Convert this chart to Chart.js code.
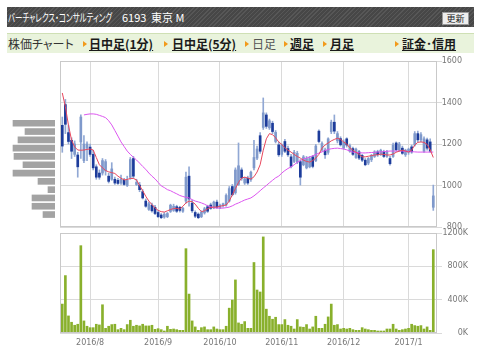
<!DOCTYPE html>
<html lang="ja">
<head>
<meta charset="utf-8">
<script src="https://cdn.jsdelivr.net/npm/chart.js@4.4.0/dist/chart.umd.min.js"></script>
<style>
  html, body { margin: 0; padding: 0; background: #fff; }
  #wrap { position: relative; width: 480px; height: 359px; overflow: hidden; font-family: "Noto Sans CJK JP", sans-serif; }
  .head { position: absolute; left: 7px; top: 7px; width: 467px; height: 20px;
    background: repeating-linear-gradient(135deg, #575757 0 1px, #474747 1px 3px); color: #fff; }
  .head span { position: absolute; top: 0; line-height: 20px; font-size: 11px; font-feature-settings: "palt"; white-space: nowrap; transform-origin: 0 50%; }
  .btn { position: absolute; left: 435px; top: 5px; width: 25px; height: 11px; background: #eeeeee;
    border: 1px solid #9a9a9a; color: #222; font-size: 9px; line-height: 11px; text-align: center; }
  .tabs { position: absolute; left: 7px; top: 33px; width: 467px; height: 19px; background: #e9f3dc; border-top: 1px solid #cfe0b5; }
  .tabs span { position: absolute; top: 0; line-height: 19px; font-size: 12px; white-space: nowrap; font-feature-settings: "palt"; }
  .tabs .lnk { font-weight: bold; color: #1a1a1a; text-decoration: underline; }
  .tabs .cur { color: #555; }
  .tabs .arw { width: 0; height: 0; top: 7px; border-left: 4px solid #f29a1a; border-top: 3px solid transparent; border-bottom: 3px solid transparent; }
  canvas { position: absolute; }
</style>
</head>
<body>
<div id="wrap">
  <div class="head">
    <span style="left:1px;transform:scaleX(0.68)">バーチャレクス・コンサルティング</span>
    <span style="left:115px">6193</span>
    <span style="left:144px">東京 M</span>
    <div class="btn">更新</div>
  </div>
  <div class="tabs">
    <span style="left:1px;color:#333">株価チャート</span>
    <span class="arw" style="left:76px"></span><span class="lnk" style="left:82px">日中足(1分)</span>
    <span class="arw" style="left:157px"></span><span class="lnk" style="left:165px">日中足(5分)</span>
    <span class="arw" style="left:238px"></span><span class="cur" style="left:245px">日足</span>
    <span class="arw" style="left:277px"></span><span class="lnk" style="left:283px">週足</span>
    <span class="arw" style="left:316px"></span><span class="lnk" style="left:323px">月足</span>
    <span class="arw" style="left:388px"></span><span class="lnk" style="left:395px">証金･信用</span>
  </div>
  <canvas id="profile" width="55" height="166" style="left:0;top:61px"></canvas>
  <canvas id="price" width="480" height="183" style="left:0;top:52px"></canvas>
  <canvas id="volume" width="480" height="131" style="left:0;top:228px"></canvas>
</div>
<script>
// daily candles, 2016/7/19 - 2017/1/17
const opens = [1290,1390,1255,1218,1150,1147,1210,1120,1180,1185, 1150,1090,1060,1060,1070,1045,1030,1030,1025,1012,
  1025,1000,1040,1130,1005,1002,970,925,885,905, 895,870,858,848,850,875,880,898,895,876,
  925,1045,915,870,862,850,868,898,906,892, 920,892,905,906,925,995,965,1005,1075,1012,
  1035,1028,1085,1132,1240,1280,1340,1278,1300,1212, 1196,1150,1212,1178,1138,1116,1112,1115,1100,1085,
  1090,1138,1120,1262,1172,1170,1160,1260,1305,1215, 1226,1180,1225,1165,1178,1135,1162,1145,1122,1108,
  1124,1140,1162,1150,1162,1140,1130,1140,1205,1170, 1180,1148,1160,1186,1195,1250,1220,1165,1220,1210,
  895];
const highs = [1330,1415,1290,1230,1215,1160,1340,1240,1210,1200, 1170,1100,1075,1130,1125,1060,1110,1040,1035,1050,
  1035,1045,1135,1140,1030,1015,980,935,920,915, 905,878,865,870,870,910,910,905,900,895,
  1065,1090,930,878,868,878,895,905,915,925, 930,910,915,960,995,1005,1085,1205,1085,1040,
  1045,1070,1218,1190,1255,1422,1350,1320,1310,1265, 1210,1200,1222,1190,1150,1170,1165,1125,1145,1140,
  1140,1145,1198,1268,1210,1180,1230,1315,1340,1260, 1235,1220,1230,1200,1185,1180,1170,1150,1130,1135,
  1150,1168,1170,1175,1170,1170,1140,1205,1210,1208, 1190,1175,1180,1195,1260,1262,1255,1235,1228,1225,
  1002];
const lows = [1160,1250,1200,1130,1140,1040,1130,1110,1120,1140, 1075,1030,1030,1050,1050,1012,1025,1005,1005,1005,
  1000,995,1030,1035,1000,970,935,895,880,872, 860,845,840,842,845,870,875,870,872,870,
  915,900,870,845,840,845,862,870,885,888, 890,888,895,900,920,950,958,1000,1025,1005,
  1005,1020,1075,1125,1155,1270,1275,1270,1250,1205, 1140,1140,1158,1140,1085,1110,1105,1002,1095,1080,
  1085,1085,1115,1205,1165,1130,1150,1250,1250,1205, 1190,1175,1185,1160,1145,1130,1125,1115,1095,1100,
  1115,1135,1140,1145,1135,1135,1098,1135,1165,1165, 1150,1140,1150,1155,1190,1210,1210,1160,1170,1160,
  880];
const closes = [1190,1295,1212,1165,1200,1090,1330,1200,1200,1150, 1085,1040,1040,1120,1115,1020,1080,1012,1010,1030,
  1005,1025,1125,1045,1015,980,940,900,912,878, 865,850,845,862,865,905,900,876,880,890,
  1040,935,878,852,845,872,888,876,890,920, 895,905,912,952,985,956,1075,1095,1036,1032,
  1012,1064,1135,1176,1165,1350,1285,1312,1260,1256, 1148,1195,1165,1148,1092,1160,1155,1040,1138,1130,
  1130,1092,1190,1212,1202,1148,1225,1305,1262,1250, 1196,1210,1195,1192,1150,1175,1132,1122,1100,1130,
  1145,1162,1148,1170,1140,1162,1105,1195,1172,1200, 1155,1170,1175,1162,1250,1220,1245,1225,1180,1165,
  950];
const maShort = [1446,1380,1290,1219,1186,1171,1170,1171,1174,1176, 1171,1135,1100,1085,1072,1066,1062,1058,1045,1035,
  1027,1029,1034,1034,1027,1000,975,948,925,908, 892,880,874,872,878,884,889,890,887,900,
  916,925,922,910,890,874,878,888,894,896, 896,900,903,906,925,955,985,1015,1036,1040,
  1036,1031,1042,1065,1100,1170,1225,1250,1245,1230, 1210,1198,1182,1170,1161,1150,1140,1132,1122,1116,
  1113,1120,1132,1150,1180,1195,1205,1215,1222,1228, 1222,1210,1200,1182,1170,1160,1150,1138,1138,1141,
  1144,1147,1148,1151,1150,1147,1147,1152,1160,1166, 1170,1166,1161,1170,1195,1208,1210,1208,1198,1172,
  1135];
const maLong = [null,null,null,null,null,null,null,1340,1343,1345, 1345,1343,1338,1333,1327,1312,1292,1265,1238,1210,
  1188,1166,1150,1136,1123,1108,1092,1078,1060,1045, 1032,1015,998,990,980,975,967,960,952,947,
  943,940,932,925,921,916,910,902,898,893, 891,891,891,893,896,902,910,916,923,930,
  935,940,950,962,975,988,1000,1013,1025,1037, 1045,1060,1072,1082,1090,1100,1112,1120,1128,1132,
  1137,1143,1150,1156,1162,1168,1174,1177,1179,1180, 1178,1176,1172,1166,1161,1159,1158,1157,1157,1158,
  1159,1160,1161,1162,1163,1165,1166,1166,1166,1166, 1166,1165,1164,1163,1162,1161,1161,1161,1161,1161,
  1161];
// volume in thousands of shares
const volumes = [347,689,205,129,93,105,1048,145,81,64, 64,105,97,339,56,81,101,105,40,56,
  40,101,153,81,93,85,105,85,85,93, 44,52,40,24,81,44,48,40,32,32,
  1012,467,145,73,32,64,73,40,40,73, 48,40,40,81,298,395,637,121,105,137,
  56,56,846,516,492,1153,286,201,165,189, 101,101,161,93,81,48,161,73,69,101,
  48,73,201,56,56,105,193,347,93,101, 48,56,48,56,40,32,32,64,48,40,
  32,32,24,24,24,48,48,105,48,32, 40,48,56,105,89,81,89,48,73,32,
  1000];
const monthTickIndex = [9, 31, 51, 71, 91, 112];
const monthTickLabels = ["2016/8", "2016/9", "2016/10", "2016/11", "2016/12", "2017/1"];
// price-by-volume histogram (left side)
const profilePrices = [1300,1260,1220,1180,1140,1100,1060,1020,980,940,900,860];
const profileSizes = [42,30,37,42,41,32,42,17,7,23,23,12];

const GRID = "#dadada";
const TICK_FONT = { family: "DejaVu Sans", size: 8 };

const chartAreaBorder = {
  id: "chartAreaBorder",
  afterDraw(chart, args, options) {
    const { ctx, chartArea: { left, top, width, height } } = chart;
    ctx.save();
    ctx.strokeStyle = options.borderColor;
    ctx.lineWidth = options.borderWidth;
    ctx.strokeRect(left + 0.5, top + 0.5, width - 1, height - 1);
    ctx.restore();
  },
};

const monthTicks = (scale) => {
  scale.ticks = monthTickIndex.map((v) => ({ value: v }));
};

Chart.defaults.animation = false;
Chart.defaults.responsive = false;
Chart.defaults.plugins.legend.display = false;
Chart.defaults.plugins.tooltip.enabled = false;

new Chart(document.getElementById("price"), {
  type: "bar",
  data: {
    datasets: [
      {
        type: "line",
        data: maShort.map((v, i) => ({ x: i, y: v })),
        borderColor: "#e8465c",
        borderWidth: 1,
        pointRadius: 0,
        order: 0,
      },
      {
        type: "line",
        data: maLong.map((v, i) => ({ x: i, y: v })),
        borderColor: "#dc55ef",
        borderWidth: 1,
        pointRadius: 0,
        order: 0,
      },
      {
        data: opens.map((o, i) => ({ x: i, y: [o, closes[i]] })),
        backgroundColor: opens.map((o, i) => (closes[i] < o ? "#1d3c9b" : "#7f99cb")),
        barThickness: 2,
        grouped: false,
        order: 1,
      },
      {
        data: highs.map((h, i) => ({ x: i, y: [lows[i], h] })),
        backgroundColor: "#91a8d4",
        barThickness: 1,
        grouped: false,
        order: 2,
      },
    ],
  },
  options: {
    layout: { padding: { left: 60, right: 18, top: 9, bottom: 8 } },
    scales: {
      x: {
        type: "linear",
        offset: false,
        min: -0.74,
        max: 121.2,
        afterBuildTicks: monthTicks,
        ticks: { display: false },
        grid: { color: GRID, drawTicks: false, offset: false },
        border: { display: false },
        afterFit: (s) => { s.height = 0; s.paddingLeft = 0; s.paddingRight = 0; },
      },
      y: {
        position: "right",
        min: 800,
        max: 1600,
        ticks: { stepSize: 200, color: "#777", font: TICK_FONT, padding: 0, crossAlign: "far", callback: (v) => String(v) },
        grid: { color: GRID, tickLength: 5 },
        border: { display: false },
        afterFit: (s) => { s.width = 25; s.paddingTop = 0; s.paddingBottom = 0; },
      },
    },
    plugins: { chartAreaBorder: { borderColor: "#c9c9c9", borderWidth: 1 } },
  },
  plugins: [chartAreaBorder],
});

new Chart(document.getElementById("volume"), {
  type: "bar",
  data: {
    datasets: [
      {
        data: volumes.map((v, i) => ({ x: i, y: v })),
        backgroundColor: "#89b02c",
        barThickness: 2,
      },
    ],
  },
  options: {
    layout: { padding: { left: 60, right: 12, top: 5, bottom: 0 } },
    scales: {
      x: {
        type: "linear",
        offset: false,
        min: -0.74,
        max: 121.2,
        afterBuildTicks: monthTicks,
        ticks: {
          autoSkip: false,
          maxRotation: 0,
          padding: 5,
          color: "#777",
          font: TICK_FONT,
          callback: (v) => monthTickLabels[monthTickIndex.indexOf(v)],
        },
        grid: { color: GRID, drawTicks: false, offset: false },
        border: { display: false },
        afterFit: (s) => { s.height = 26; s.paddingLeft = 0; s.paddingRight = 0; },
      },
      y: {
        position: "right",
        min: 0,
        max: 1200,
        ticks: { stepSize: 400, color: "#777", font: TICK_FONT, padding: 0, crossAlign: "far", callback: (v) => v + "K" },
        grid: { color: GRID, tickLength: 5 },
        border: { display: false },
        afterFit: (s) => { s.width = 31; s.paddingTop = 0; s.paddingBottom = 0; },
      },
    },
    plugins: { chartAreaBorder: { borderColor: "#c9c9c9", borderWidth: 1 } },
  },
  plugins: [chartAreaBorder],
});

new Chart(document.getElementById("profile"), {
  type: "bar",
  data: {
    datasets: [
      {
        data: profilePrices.map((p, i) => ({ x: profileSizes[i], y: p })),
        backgroundColor: "#a3a3a3",
        barThickness: 6,
      },
    ],
  },
  options: {
    indexAxis: "y",
    layout: { padding: 0 },
    scales: {
      x: { type: "linear", min: 0, max: 55, reverse: true, display: false },
      y: { type: "linear", offset: false, min: 800, max: 1600, display: false },
    },
  },
});
</script>
</body>
</html>
